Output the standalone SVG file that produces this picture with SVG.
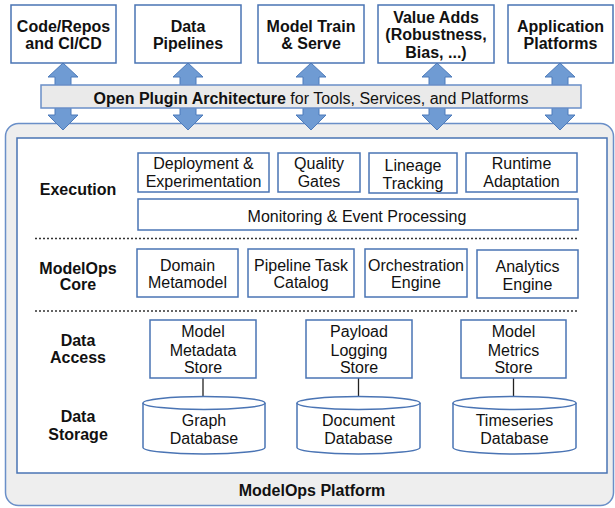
<svg xmlns="http://www.w3.org/2000/svg" width="615" height="508" viewBox="0 0 615 508">
<defs>
<style>
.box{fill:#ffffff;stroke:#4a74b4;stroke-width:1.5}
.t{font-family:"Liberation Sans",Arial,sans-serif;font-size:16px;fill:#111;text-anchor:middle}
.b{font-weight:bold}
.arr{fill:#6f9bd3;stroke:#4d7bbb;stroke-width:1}
.conn{stroke:#222;stroke-width:1.3;fill:none}
.dot{stroke:#333;stroke-width:1.5;stroke-dasharray:2,2;fill:none}
</style>
<path id="dbl" d="M0,0 L15,14 L8,14 L8,52 L15,52 L0,67 L-15,52 L-8,52 L-8,14 L-15,14 Z"/>
</defs>
<rect width="615" height="508" fill="#ffffff"/>

<g id="platform">
<rect x="5.5" y="123.5" width="608" height="382" rx="13" fill="#eeeeee" stroke="#6a8fc8" stroke-width="1.5"/>
<rect x="17" y="138" width="590" height="335" fill="#ffffff" stroke="#4a74b4" stroke-width="1.5"/>
<text class="t b" x="312" y="496">ModelOps Platform</text>
</g>

<g id="arrows">
<use href="#dbl" class="arr" x="63" y="63"/>
<use href="#dbl" class="arr" x="188" y="63"/>
<use href="#dbl" class="arr" x="311" y="63"/>
<use href="#dbl" class="arr" x="437" y="63"/>
<use href="#dbl" class="arr" x="560" y="63"/>
</g>

<g id="plugin-bar">
<rect x="41" y="85" width="540" height="23" fill="#eaeaea" stroke="#6a8fc8" stroke-width="1.5"/>
<text class="t" x="311" y="104"><tspan class="b">Open Plugin Architecture</tspan> for Tools, Services, and Platforms</text>
</g>

<g id="code-repos"><rect class="box" x="11" y="5" width="105" height="58"/><text class="t b" x="63.5" y="32">Code/Repos</text><text class="t b" x="63.5" y="49">and CI/CD</text></g>
<g id="data-pipelines"><rect class="box" x="135" y="5" width="106" height="58"/><text class="t b" x="188" y="32">Data</text><text class="t b" x="188" y="49">Pipelines</text></g>
<g id="model-train"><rect class="box" x="258" y="5" width="106" height="58"/><text class="t b" x="311" y="32">Model Train</text><text class="t b" x="311" y="49">&amp; Serve</text></g>
<g id="value-adds"><rect class="box" x="378" y="5" width="116" height="58"/><text class="t b" x="436" y="22.5">Value Adds</text><text class="t b" x="436" y="40">(Robustness,</text><text class="t b" x="436" y="57.5">Bias, ...)</text></g>
<g id="app-platforms"><rect class="box" x="508" y="5" width="105" height="58"/><text class="t b" x="560.5" y="32">Application</text><text class="t b" x="560.5" y="49">Platforms</text></g>

<g id="labels">
<text class="t b" x="78" y="194.5">Execution</text>
<text class="t b" x="78" y="273.5">ModelOps</text><text class="t b" x="78" y="290">Core</text>
<text class="t b" x="78" y="345.5">Data</text><text class="t b" x="78" y="362.5">Access</text>
<text class="t b" x="78" y="421.5">Data</text><text class="t b" x="78" y="439.5">Storage</text>
</g>

<g id="deployment"><rect class="box" x="138" y="153" width="131" height="39"/><text class="t" x="203.5" y="169">Deployment &amp;</text><text class="t" x="203.5" y="187">Experimentation</text></g>
<g id="quality-gates"><rect class="box" x="278" y="153" width="82" height="39"/><text class="t" x="319" y="169">Quality</text><text class="t" x="319" y="187">Gates</text></g>
<g id="lineage"><rect class="box" x="369" y="153" width="88" height="40"/><text class="t" x="413" y="170.5">Lineage</text><text class="t" x="413" y="188.5">Tracking</text></g>
<g id="runtime"><rect class="box" x="466" y="153" width="111" height="39"/><text class="t" x="521.5" y="169">Runtime</text><text class="t" x="521.5" y="187">Adaptation</text></g>
<g id="monitoring"><rect class="box" x="138" y="199" width="440" height="31"/><text class="t" x="357" y="221.5">Monitoring &amp; Event Processing</text></g>

<g id="separators">
<line class="dot" x1="35" y1="238.5" x2="578" y2="238.5"/>
<line class="dot" x1="35" y1="311" x2="578" y2="311"/>
</g>

<g id="domain"><rect class="box" x="137" y="249" width="101" height="48"/><text class="t" x="187.5" y="270.5">Domain</text><text class="t" x="187.5" y="288">Metamodel</text></g>
<g id="pipeline-task"><rect class="box" x="248" y="249" width="106" height="48"/><text class="t" x="301" y="270.5">Pipeline Task</text><text class="t" x="301" y="288">Catalog</text></g>
<g id="orchestration"><rect class="box" x="365" y="249" width="102" height="48"/><text class="t" x="416" y="270.5">Orchestration</text><text class="t" x="416" y="288">Engine</text></g>
<g id="analytics"><rect class="box" x="477" y="250" width="101" height="48"/><text class="t" x="527.5" y="271.5">Analytics</text><text class="t" x="527.5" y="289.5">Engine</text></g>

<g id="connectors">
<line class="conn" x1="203" y1="378" x2="203" y2="397"/>
<line class="conn" x1="358.5" y1="378" x2="358.5" y2="397"/>
<line class="conn" x1="513.5" y1="378" x2="513.5" y2="397"/>
</g>

<g id="model-metadata"><rect class="box" x="150" y="320" width="106" height="58"/><text class="t" x="203" y="337">Model</text><text class="t" x="203" y="355.5">Metadata</text><text class="t" x="203" y="373">Store</text></g>
<g id="payload-logging"><rect class="box" x="306" y="320" width="106" height="58"/><text class="t" x="359" y="337">Payload</text><text class="t" x="359" y="355.5">Logging</text><text class="t" x="359" y="373">Store</text></g>
<g id="model-metrics"><rect class="box" x="461" y="320" width="105" height="58"/><text class="t" x="513.5" y="337">Model</text><text class="t" x="513.5" y="355.5">Metrics</text><text class="t" x="513.5" y="373">Store</text></g>

<g id="graph-db">
<path class="box" d="M143,403 A61,6.5 0 0 1 265,403 L265,447.5 A61,6.5 0 0 1 143,447.5 Z"/>
<path class="box" d="M143,403 A61,6.5 0 0 0 265,403"/>
<text class="t" x="204" y="426">Graph</text><text class="t" x="204" y="444">Database</text>
</g>
<g id="document-db">
<path class="box" d="M297,403 A61.5,6.5 0 0 1 420,403 L420,447.5 A61.5,6.5 0 0 1 297,447.5 Z"/>
<path class="box" d="M297,403 A61.5,6.5 0 0 0 420,403"/>
<text class="t" x="358.5" y="426">Document</text><text class="t" x="358.5" y="444">Database</text>
</g>
<g id="timeseries-db">
<path class="box" d="M453,403 A61.5,6.5 0 0 1 576,403 L576,447.5 A61.5,6.5 0 0 1 453,447.5 Z"/>
<path class="box" d="M453,403 A61.5,6.5 0 0 0 576,403"/>
<text class="t" x="514.5" y="426">Timeseries</text><text class="t" x="514.5" y="444">Database</text>
</g>
</svg>
